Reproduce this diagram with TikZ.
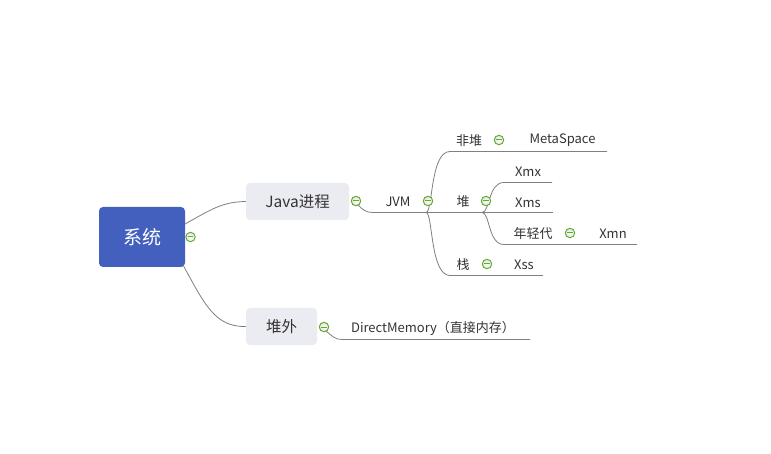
\documentclass[tikz,border=0pt]{standalone}
\usepackage{fontspec}
\setmainfont{Noto Sans CJK SC}
\definecolor{rootblue}{HTML}{4360BF}
\definecolor{subfill}{HTML}{EBEBF2}
\definecolor{linegray}{HTML}{808080}
\definecolor{txt}{HTML}{333333}
\definecolor{btngreen}{HTML}{62A935}
\definecolor{btnfill}{HTML}{DDE6D4}
\begin{document}
\begin{tikzpicture}[x=1pt,y=-1pt,
  rootbox/.style={draw=none, fill=rootblue, rounded corners=4pt, minimum width=86pt, minimum height=60pt, inner sep=0pt, text=white, font=\fontsize{19}{22}\selectfont},
  subbox/.style={draw=none, fill=subfill, rounded corners=4pt, minimum height=37pt, inner sep=0pt, text=txt, font=\fontsize{15.5}{18}\selectfont},
  lbl/.style={inner sep=0pt, text=txt, font=\fontsize{13}{15}\selectfont},
  mbtn/.style={circle, draw=btngreen, line width=0.9pt, inner color=white, outer color=btnfill, minimum size=9.5pt, inner sep=0pt,
    path picture={\draw[btngreen, line width=1pt] ([xshift=-2.8pt]path picture bounding box.center) -- ([xshift=2.8pt]path picture bounding box.center);}},
  conn/.style={draw=linegray, line width=0.8pt}
]
\useasboundingbox (0,0) rectangle (771,454);
\fill[white] (0,0) rectangle (771,454);

% main nodes
\node[rootbox] (root) at (142,237) {系统};
\node[subbox, minimum width=103pt] (java) at (297.5,201.5) {Java进程};
\node[subbox, minimum width=71pt] (dw) at (281.5,326.5) {堆外};

% labels
\node[lbl] (jvm) at (398,201.5) {JVM};
\node[lbl] (fd) at (469,140.5) {非堆};
\node[lbl] (meta) at (562.5,140.5) {MetaSpace};
\node[lbl] (heap) at (463,202) {堆};
\node[lbl] (xmx) at (528,171.5) {Xmx};
\node[lbl] (xms) at (528,202.5) {Xms};
\node[lbl] (nqd) at (533,233.5) {年轻代};
\node[lbl] (xmn) at (613,234) {Xmn};
\node[lbl] (zhan) at (463,264.5) {栈};
\node[lbl] (xss) at (524,265) {Xss};
\node[lbl] (dm) at (433,328) {DirectMemory（直接内存）};

% coordinates
\coordinate (rA) at (185,224);
\coordinate (rB) at (183,265);
\coordinate (jS) at (358,205);
\coordinate (jE) at (373,212.5);
\coordinate (J) at (426,212.5);
\coordinate (fdS) at (450,151.5);
\coordinate (fdE) at (607,151.5);
\coordinate (hE) at (553,212.5);
\coordinate (H) at (482,212.5);
\coordinate (xmxS) at (504,182.5);
\coordinate (xmxE) at (552,182.5);
\coordinate (nqS) at (504,244.5);
\coordinate (nqE) at (637,244.5);
\coordinate (zS) at (450,275.5);
\coordinate (zE) at (543,275.5);
\coordinate (dS) at (326,331);
\coordinate (dM) at (342,339.5);
\coordinate (dE) at (530,339.5);

% connectors
\draw[conn] (rA) .. controls (212,209) and (222,202) .. (java.west);
\draw[conn] (rB) .. controls (205,305) and (215,327) .. (dw.west);
\draw[conn] (jS) .. controls (363,210) and (366,212.5) .. (jE) -- (J);
\draw[conn] (J) .. controls (433,212.5) and (430,151.5) .. (fdS) -- (fdE);
\draw[conn] (J) -- (hE);
\draw[conn] (J) .. controls (433,212.5) and (430,275.5) .. (zS) -- (zE);
\draw[conn] (H) .. controls (490,212.5) and (488,182.5) .. (xmxS) -- (xmxE);
\draw[conn] (H) .. controls (490,212.5) and (488,244.5) .. (nqS) -- (nqE);
\draw[conn] (dS) .. controls (332,336) and (335,339.5) .. (dM) -- (dE);

% collapse buttons
\node[mbtn] (b1) at (190.5,237) {};
\node[mbtn] (b2) at (356,201) {};
\node[mbtn] (b3) at (428,201) {};
\node[mbtn] (b4) at (486,201) {};
\node[mbtn] (b5) at (499,140) {};
\node[mbtn] (b6) at (570,233) {};
\node[mbtn] (b7) at (487,264) {};
\node[mbtn] (b8) at (324,327) {};
\end{tikzpicture}
\end{document}
